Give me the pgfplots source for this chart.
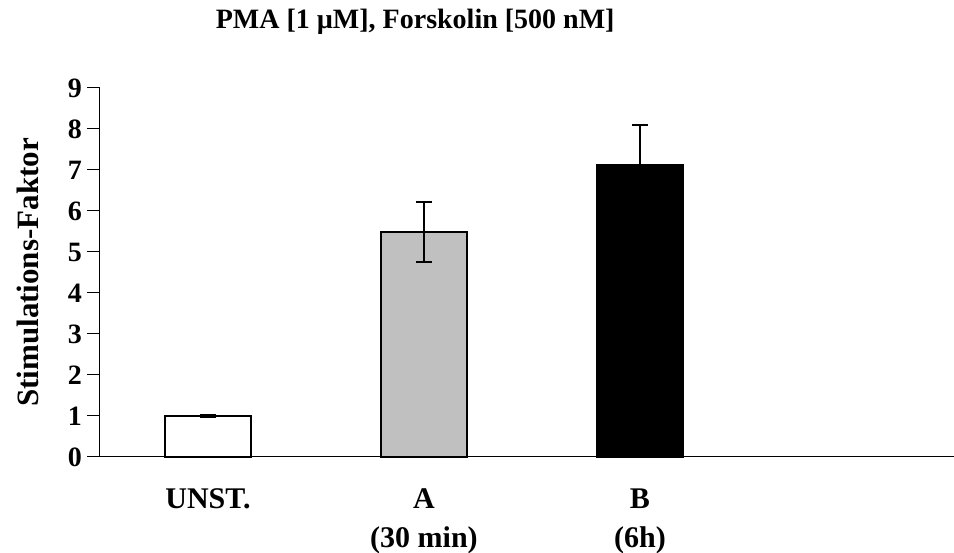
\documentclass[border=0pt]{standalone}
\usepackage{pgfplots}
\pgfplotsset{compat=1.18}
\usepackage{fontspec}
\setmainfont{Liberation Serif}
\definecolor{bargray}{HTML}{C0C0C0}
\begin{document}
\begin{tikzpicture}
\begin{axis}[
  name=ax,
  width=427pt, height=184.5pt, scale only axis,
  xmin=-0.5, xmax=3.454, ymin=0, ymax=9,
  axis lines=left,
  axis line style={-, line width=0.5pt},
  ytick={0,1,2,3,4,5,6,7,8,9},
  xtick={0,1,2},
  xticklabels={UNST., A\\(30 min), B\\(6h)},
  extra x ticks={-0.5,0.5,1.5,2.5},
  extra x tick labels={},
  extra x tick style={major tick length=5.5pt, tick style={line width=0.5pt, black}},
  major tick length=6.5pt,
  tick align=outside,
  x tick style={draw=none},
  y tick style={line width=0.5pt, black},
  /pgf/number format/assume math mode=true,
  yticklabel style={font=\fontsize{14}{16}\selectfont\bfseries, anchor=east, xshift=1pt},
  xticklabel style={font=\fontsize{15}{19.5}\selectfont\bfseries, align=center, anchor=north, yshift=-6pt},
  ylabel={Stimulations-Faktor},
  ylabel style={font=\fontsize{15.5}{18}\selectfont\bfseries, at={(axis description cs:-0.0843,0.5)}, anchor=center},
  ybar, bar width=43pt, bar shift=0pt,
  error bars/error bar style={line width=1pt, black},
  error bars/error mark options={rotate=90, mark size=4pt, line width=1pt, black},
  clip=false,
]
\addplot[draw=black, line width=1pt, fill=white,
  error bars/.cd, y dir=both, y explicit]
  coordinates {(0,1.0) +- (0,0.02)};
\addplot[draw=black, line width=1pt, fill=bargray,
  error bars/.cd, y dir=both, y explicit]
  coordinates {(1,5.49) +- (0,0.74)};
\addplot[draw=black, line width=1pt, fill=black,
  error bars/.cd, y dir=both, y explicit]
  coordinates {(2,7.13) +- (0,0.97)};
\node[font=\fontsize{14}{16}\selectfont\bfseries, anchor=base] at (rel axis cs:0.369,1.16) {PMA [1 µM], Forskolin [500 nM]};
\end{axis}
\pgfresetboundingbox
\path[use as bounding box] ([xshift=-50pt,yshift=-48pt]ax.south west) rectangle ([yshift=44pt]ax.north east);
\end{tikzpicture}
\end{document}
